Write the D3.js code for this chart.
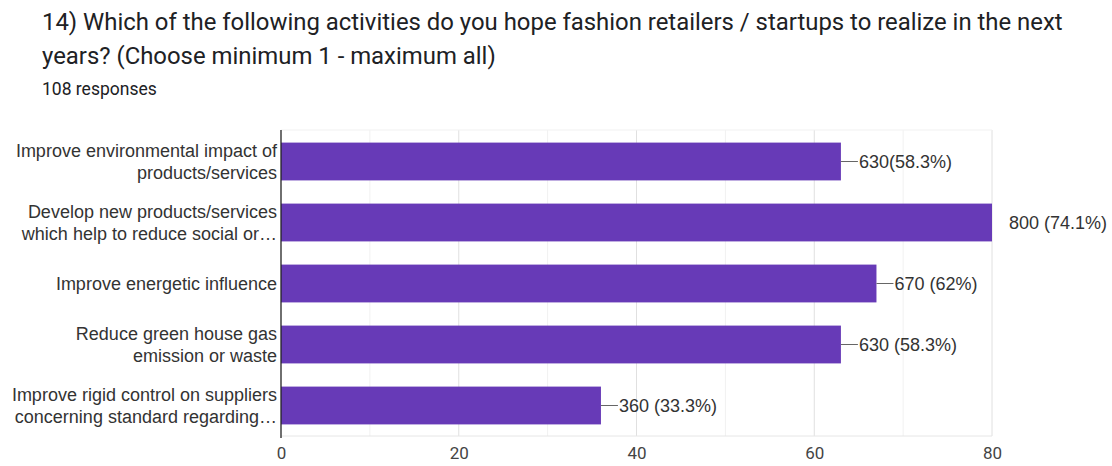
<!DOCTYPE html>
<html>
<head>
<meta charset="utf-8">
<script src="https://cdn.jsdelivr.net/npm/d3@7"></script>
<style>
  html, body { margin: 0; padding: 0; background: #fff; }
  svg { display: block; }
</style>
</head>
<body>
<svg id="chart" width="1112" height="466"></svg>
<script>
// Survey question and response count
const titleLines = [
  "14) Which of the following activities do you hope fashion retailers / startups to realize in the next",
  "years? (Choose minimum 1 - maximum all)"
];
const subtitle = "108 responses";

// Answer options (two-line labels)
const categories = [
  ["Improve environmental impact of", "products/services"],
  ["Develop new products/services", "which help to reduce social or…"],
  ["Improve energetic influence"],
  ["Reduce green house gas", "emission or waste"],
  ["Improve rigid control on suppliers", "concerning standard regarding…"]
];
const values = [63, 80, 67, 63, 36];
const valueLabels = ["630(58.3%)", "800 (74.1%)", "670 (62%)", "630 (58.3%)", "360 (33.3%)"];
const tickValues = [0, 20, 40, 60, 80];

const svg = d3.select("#chart");
const plotLeft = 281, plotRight = 992;
const plotTop = 131, plotBottom = 436;
const labelFont = "'Liberation Sans', Arial, sans-serif";

const x = d3.scaleLinear().domain([0, 80]).range([plotLeft, plotRight]);
const y = d3.scaleBand().domain(d3.range(categories.length)).range([plotTop, plotBottom]).paddingInner(0.38).paddingOuter(0.19);

// Title
svg.selectAll("text.title").data(titleLines).join("text")
  .attr("class", "title")
  .attr("x", 42).attr("y", (d, i) => 30 + i * 34)
  .attr("font-family", "Roboto, 'Open Sans', sans-serif")
  .attr("font-size", 23.9).attr("fill", "#202124")
  .text(d => d);
svg.append("text").attr("x", 42).attr("y", 95)
  .attr("font-family", "Roboto, sans-serif").attr("font-size", 17.5).attr("fill", "#202124")
  .text(subtitle);

// Gridlines: minor every 10, major every 20
const grid = svg.append("g");
grid.selectAll("line").data(d3.range(10, 81, 10)).join("line")
  .attr("x1", d => x(d)).attr("x2", d => x(d))
  .attr("y1", plotTop - 1).attr("y2", plotBottom)
  .attr("stroke", d => d % 20 === 0 ? "#e0e0e0" : "#f1f1f1").attr("stroke-width", 1);
grid.append("line").attr("x1", x(0)).attr("x2", x(80)).attr("y1", plotBottom).attr("y2", plotBottom)
  .attr("stroke", "#e6e6e6");
grid.append("line").attr("x1", x(0)).attr("x2", x(80)).attr("y1", plotTop - 1).attr("y2", plotTop - 1)
  .attr("stroke", "#f1f1f1");

// Bars
svg.append("g").selectAll("rect").data(values).join("rect")
  .attr("x", x(0)).attr("y", (d, i) => y(i))
  .attr("width", d => x(d) - x(0)).attr("height", y.bandwidth())
  .attr("fill", "#673ab7");

// Value labels with leader lines
const lab = svg.append("g");
values.forEach((v, i) => {
  const cy = y(i) + y.bandwidth() / 2;
  const outside = v >= 80;
  const start = x(v);
  if (!outside) {
    lab.append("line").attr("x1", start).attr("x2", start + 17).attr("y1", cy).attr("y2", cy)
      .attr("stroke", "#666").attr("stroke-width", 1);
  }
  lab.append("text")
    .attr("x", outside ? start + 17 : start + 18).attr("y", cy)
    .attr("dy", "0.35em")
    .attr("font-family", labelFont).attr("font-size", 18)
    .attr("fill", "#333")
    .text(valueLabels[i]);
});

// Category labels
const cat = svg.append("g");
categories.forEach((lines, i) => {
  const cy = y(i) + y.bandwidth() / 2;
  const n = lines.length;
  lines.forEach((t, j) => {
    cat.append("text")
      .attr("x", 277).attr("y", cy + (j - (n - 1) / 2) * 22)
      .attr("dy", "0.35em").attr("text-anchor", "end")
      .attr("font-family", labelFont).attr("font-size", 18)
      .attr("fill", "#333")
      .text(t);
  });
});

// Baseline axis
svg.append("line").attr("x1", x(0)).attr("x2", x(0)).attr("y1", plotTop - 1).attr("y2", plotBottom + 2)
  .attr("stroke", "#222").attr("stroke-width", 1.3);

// X axis tick labels
const xAxis = d3.axisBottom(x).tickValues(tickValues).tickSize(0).tickPadding(11);
const gx = svg.append("g").attr("transform", `translate(0,${plotBottom})`).call(xAxis);
gx.select(".domain").remove();
gx.selectAll("text")
  .attr("font-family", "Roboto, sans-serif").attr("font-size", 17).attr("fill", "#444");
</script>
</body>
</html>
